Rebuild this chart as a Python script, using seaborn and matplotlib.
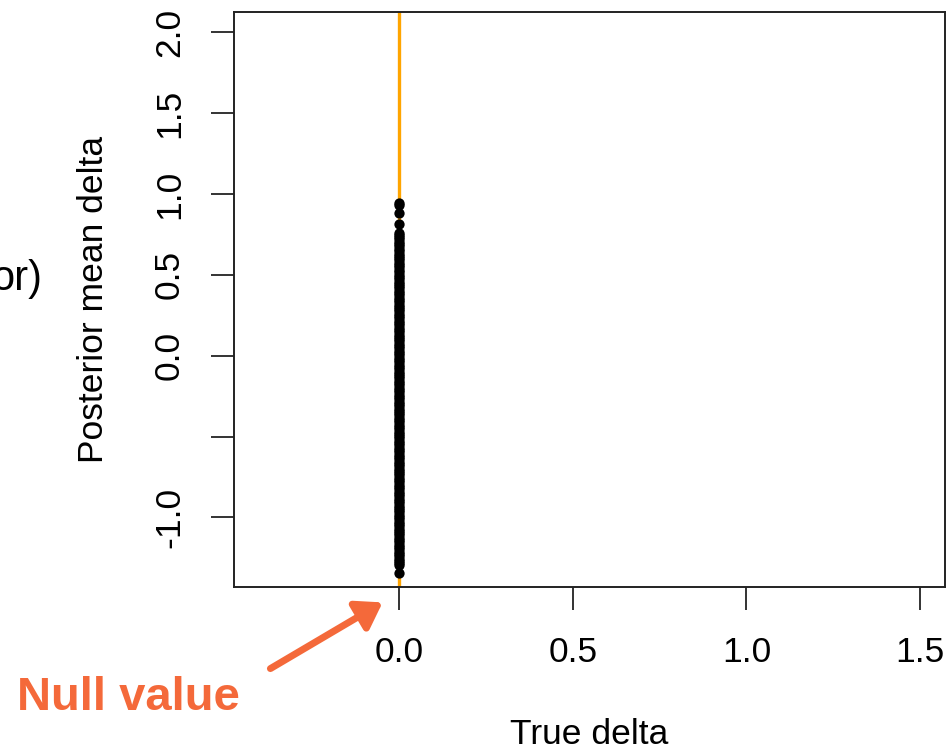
import pandas as pd
import seaborn as sns
import matplotlib
import matplotlib.pyplot as plt
from matplotlib.patches import FancyArrowPatch
matplotlib.use('Agg')

sns.set_theme(style="white")
plt.rcParams['font.family'] = ['Liberation Sans', 'DejaVu Sans']

# simulated posterior means, all with true delta = 0 (null)
posterior_mean = [0.944, 0.931, 0.882, 0.815, 0.757, 0.748, 0.733, 0.719, 0.702, 0.691,
                  0.676, 0.661, 0.648, 0.632, 0.617, 0.604, 0.589, 0.573, 0.561, 0.546,
                  0.531, 0.518, 0.502, 0.489, 0.474, 0.458, 0.446, 0.431, 0.417, 0.402,
                  0.388, 0.373, 0.359, 0.346, 0.331, 0.316, 0.302, 0.288, 0.274, 0.259,
                  0.245, 0.231, 0.216, 0.203, 0.188, 0.173, 0.159, 0.146, 0.131, 0.117,
                  0.102, 0.088, 0.074, 0.059, 0.046, 0.031, 0.017, 0.003, -0.012, -0.026,
                  -0.041, -0.055, -0.069, -0.084, -0.098, -0.112, -0.127, -0.141, -0.156, -0.169,
                  -0.184, -0.198, -0.213, -0.227, -0.241, -0.256, -0.269, -0.284, -0.298, -0.313,
                  -0.327, -0.341, -0.356, -0.369, -0.384, -0.398, -0.412, -0.427, -0.441, -0.456,
                  -0.469, -0.484, -0.498, -0.512, -0.527, -0.541, -0.555, -0.569, -0.584, -0.598,
                  -0.613, -0.627, -0.641, -0.655, -0.669, -0.684, -0.698, -0.712, -0.727, -0.741,
                  -0.755, -0.769, -0.784, -0.798, -0.812, -0.827, -0.841, -0.855, -0.869, -0.884,
                  -0.898, -0.912, -0.927, -0.941, -0.955, -0.969, -0.984, -0.998, -1.012, -1.027,
                  -1.041, -1.055, -1.069, -1.084, -1.098, -1.112, -1.127, -1.141, -1.155, -1.169,
                  -1.184, -1.198, -1.212, -1.226, -1.241, -1.255, -1.269, -1.283, -1.296, -1.342]
true_delta = [0.0] * len(posterior_mean)
null_value = 0.0

x_ticks = [0.0, 0.5, 1.0, 1.5]
y_ticks = [-1.0, -0.5, 0.0, 0.5, 1.0, 1.5, 2.0]
y_tick_labels = ['-1.0', '', '0.0', '0.5', '1.0', '1.5', '2.0']

df = pd.DataFrame({'true': true_delta, 'post': posterior_mean})

fig = plt.figure(figsize=(9.49, 7.53), dpi=100)
ax = fig.add_axes([234 / 949, 1 - 586.7 / 753, (945 - 234) / 949, (586.7 - 12) / 753])

ax.axvline(null_value, color='#FFA500', lw=2.4, zorder=1)
sns.scatterplot(data=df, x='true', y='post', color='black', s=55, linewidth=0, ax=ax, zorder=2)

ax.set_xlim(-0.476, 1.572)
ax.set_ylim(-1.429, 2.126)
ax.set_xticks(x_ticks)
ax.set_xticklabels([f'{t:.1f}' for t in x_ticks])
ax.set_yticks(y_ticks)
ax.set_yticklabels(y_tick_labels, rotation=90, va='center')

for s in ax.spines.values():
    s.set_visible(True)
    s.set_color('#222222')
    s.set_linewidth(1.4)
ax.tick_params(axis='both', which='major', direction='out', length=16.5, width=1.4,
               color='#333333', labelsize=25.5, labelcolor='black',
               bottom=True, left=True, top=False, right=False)
ax.tick_params(axis='x', pad=19)
ax.tick_params(axis='y', pad=18)

ax.set_xlabel('True delta', fontsize=25.5, labelpad=35, color='black')
ax.set_ylabel('Posterior mean delta', fontsize=25.5, labelpad=31, color='black')

# slide annotations
fig.text(42 / 949, 1 - 290 / 753, 'or)', fontsize=30, ha='right', va='baseline', color='black')
fig.text(17 / 949, 1 - 710 / 753, 'Null value', fontsize=34, fontweight='bold',
         ha='left', va='baseline', color='#F4693A')
arrow = FancyArrowPatch((268, 753 - 670), (385, 753 - 601), transform=None,
                        arrowstyle='-|>,head_length=15,head_width=10', mutation_scale=1,
                        color='#F4693A', lw=5, capstyle='round')
fig.add_artist(arrow)

fig.savefig('out.png', dpi=100)
